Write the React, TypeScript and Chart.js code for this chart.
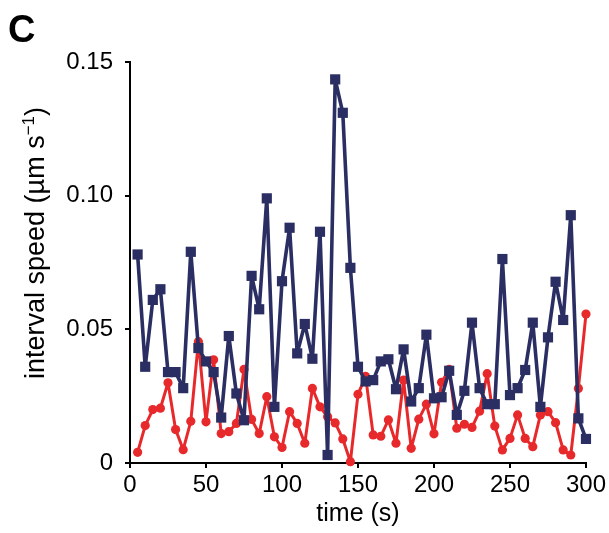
import React, { useEffect, useRef } from "react";
import { Chart, registerables } from "chart.js";

Chart.register(...registerables);

const times = [
  5, 10, 15, 20, 25, 30, 35, 40, 45, 50, 55, 60, 65, 70, 75, 80, 85, 90, 95, 100,
  105, 110, 115, 120, 125, 130, 135, 140, 145, 150, 155, 160, 165, 170, 175, 180, 185, 190, 195, 200,
  205, 210, 215, 220, 225, 230, 235, 240, 245, 250, 255, 260, 265, 270, 275, 280, 285, 290, 295, 300,
];

const blueSeries = [
  0.078, 0.036, 0.061, 0.065, 0.034, 0.034, 0.028, 0.079, 0.043, 0.038,
  0.034, 0.017, 0.0475, 0.026, 0.016, 0.070, 0.0575, 0.099, 0.021, 0.068,
  0.088, 0.041, 0.052, 0.039, 0.0865, 0.003, 0.1435, 0.131, 0.073, 0.036,
  0.0305, 0.031, 0.038, 0.0388, 0.0276, 0.0425, 0.023, 0.028, 0.048, 0.0242,
  0.0246, 0.0345, 0.018, 0.027, 0.0525, 0.028, 0.022, 0.022, 0.0763, 0.0254,
  0.028, 0.0348, 0.0525, 0.021, 0.047, 0.0678, 0.0535, 0.0927, 0.0167, 0.009,
];

const redSeries = [
  0.004, 0.014, 0.020, 0.0205, 0.030, 0.0125, 0.005, 0.0156, 0.0454, 0.0154,
  0.0386, 0.011, 0.0117, 0.0148, 0.035, 0.0163, 0.011, 0.0248, 0.0098, 0.0058,
  0.0192, 0.0148, 0.0074, 0.0279, 0.021, 0.0173, 0.015, 0.009, 0.0005, 0.0257,
  0.0324, 0.0105, 0.010, 0.0161, 0.0074, 0.031, 0.0055, 0.0164, 0.022, 0.0109,
  0.0302, 0.035, 0.013, 0.0145, 0.0133, 0.0194, 0.0334, 0.0138, 0.0049, 0.0092,
  0.018, 0.0092, 0.0061, 0.018, 0.0192, 0.0151, 0.0049, 0.003, 0.0279, 0.0557,
];

const yTickValues = [0, 0.05, 0.1, 0.15];
const yTickLabels = ["0", "0.05", "0.10", "0.15"];
const xTickLabels = ["0", "50", "100", "150", "200", "250", "300"];

const FONT = "'Liberation Sans', Arial, Helvetica, sans-serif";
const BLUE = "#2a2e62";
const RED = "#e8292b";

const annotatePlugin = {
  id: "annotate",
  afterDraw(chart: any) {
    const ctx = chart.ctx as CanvasRenderingContext2D;
    ctx.save();
    ctx.fillStyle = "#000";
    ctx.textBaseline = "alphabetic";
    ctx.textAlign = "left";
    ctx.font = `bold 38px ${FONT}`;
    ctx.fillText("C", 8, 42);

    // y-axis title with superscript
    const main = "interval speed (µm s";
    const sup = "−1";
    const close = ")";
    const mainFont = `27px ${FONT}`;
    const supFont = `17px ${FONT}`;
    ctx.font = mainFont;
    const w1 = ctx.measureText(main).width;
    const w3 = ctx.measureText(close).width;
    ctx.font = supFont;
    const w2 = ctx.measureText(sup).width;
    const total = w1 + w2 + w3;
    ctx.translate(44, 243);
    ctx.rotate(-Math.PI / 2);
    let x = -total / 2;
    ctx.font = mainFont;
    ctx.fillText(main, x, 0);
    x += w1;
    ctx.font = supFont;
    ctx.fillText(sup, x, -10);
    x += w2;
    ctx.font = mainFont;
    ctx.fillText(close, x, 0);
    ctx.restore();
  },
};

export default function App() {
  const canvasRef = useRef<HTMLCanvasElement | null>(null);

  useEffect(() => {
    document.body.style.margin = "0";
    const canvas = canvasRef.current;
    if (!canvas) return;
    const chart = new Chart(canvas, {
      type: "line",
      data: {
        datasets: [
          {
            label: "blue",
            data: times.map((t, i) => ({ x: t, y: blueSeries[i] })),
            borderColor: BLUE,
            backgroundColor: BLUE,
            borderWidth: 3.6,
            borderJoinStyle: "round",
            pointStyle: "rect",
            pointRadius: 7.2,
            pointBorderWidth: 0,
            pointHoverRadius: 7.2,
            tension: 0,
            clip: false as any,
          },
          {
            label: "red",
            data: times.map((t, i) => ({ x: t, y: redSeries[i] })),
            borderColor: RED,
            backgroundColor: RED,
            borderWidth: 3,
            borderJoinStyle: "round",
            pointStyle: "circle",
            pointRadius: 4.6,
            pointBorderWidth: 0,
            pointHoverRadius: 4.6,
            tension: 0,
            clip: false as any,
          },
        ],
      },
      options: {
        responsive: false,
        animation: false,
        events: [],
        layout: { padding: { top: 62, right: 23, left: 0, bottom: 0 } },
        plugins: {
          legend: { display: false },
          tooltip: { enabled: false },
          title: { display: false },
        },
        scales: {
          x: {
            type: "linear",
            min: 0,
            max: 300,
            afterFit: (scale: any) => {
              scale.height = 70;
            },
            afterBuildTicks: (scale: any) => {
              scale.ticks = xTickLabels.map((l) => ({ value: Number(l) }));
            },
            ticks: {
              color: "#000",
              font: { family: FONT, size: 24 },
              padding: 3,
              maxRotation: 0,
              autoSkip: false,
              callback: (v: any) => String(v),
            },
            grid: {
              drawOnChartArea: false,
              drawTicks: true,
              tickLength: 5,
              color: "#000",
              lineWidth: 2,
            },
            border: { display: true, color: "#000", width: 2 },
            title: {
              display: true,
              text: "time (s)",
              color: "#000",
              font: { family: FONT, size: 25 },
              padding: { top: 0, bottom: 4 },
            },
          },
          y: {
            type: "linear",
            min: 0,
            max: 0.15,
            afterFit: (scale: any) => {
              scale.width = 130;
            },
            afterBuildTicks: (scale: any) => {
              scale.ticks = yTickValues.map((v) => ({ value: v }));
            },
            ticks: {
              color: "#000",
              font: { family: FONT, size: 24 },
              padding: 12,
              autoSkip: false,
              callback: (v: any) => {
                const idx = yTickValues.findIndex((t) => Math.abs(t - Number(v)) < 1e-9);
                return idx >= 0 ? yTickLabels[idx] : "";
              },
            },
            grid: {
              drawOnChartArea: false,
              drawTicks: true,
              tickLength: 5,
              color: "#000",
              lineWidth: 2,
            },
            border: { display: true, color: "#000", width: 2 },
          },
        },
      },
      plugins: [annotatePlugin],
    });
    return () => chart.destroy();
  }, []);

  return (
    <div style={{ width: 609, height: 533, position: "relative", background: "#fff" }}>
      <canvas ref={canvasRef} width={609} height={533} />
    </div>
  );
}
